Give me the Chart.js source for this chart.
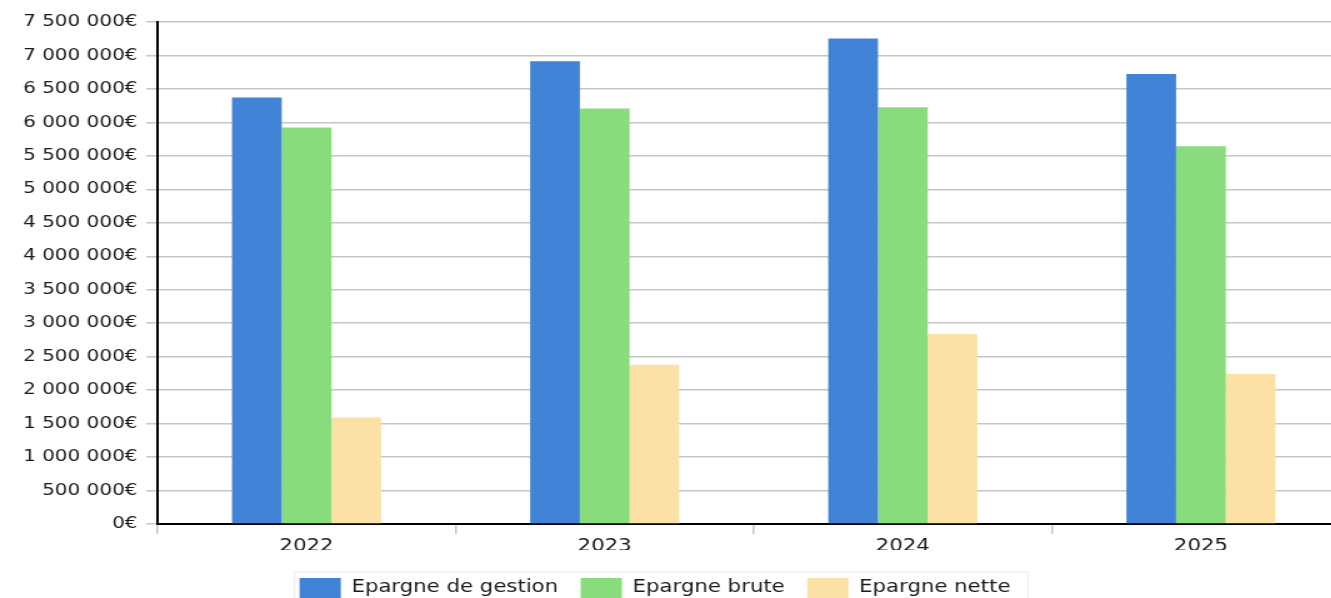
<!DOCTYPE html>
<html lang="fr">
<head>
  <meta charset="utf-8" />
  <title>Epargne 2022-2025</title>
  <style>
    html, body {
      margin: 0;
      padding: 0;
      background: #ffffff;
      overflow: hidden;
    }
    /* the reference is stretched horizontally, so the chart is drawn narrow and widened */
    #wrap {
      width: 1081px;
      height: 598px;
      transform: scaleX(1.25);
      transform-origin: 0 0;
    }
  </style>
</head>
<body>
  <div id="wrap"><canvas id="chart" width="1081" height="598"></canvas></div>

  <script src="https://cdn.jsdelivr.net/npm/chart.js"></script>

  <script>
    const years = ['2022', '2023', '2024', '2025'];
    const epargneGestion = [6372000, 6913000, 7252000, 6724000];
    const epargneBrute = [5924000, 6207000, 6227000, 5645000];
    const epargneNette = [1590000, 2381000, 2839000, 2242000];
    const seriesNames = ['Epargne de gestion', 'Epargne brute', 'Epargne nette'];
    const yMax = 7500000;
    const yStep = 500000;

    const colors = ['#4183d7', '#88dc7c', '#fce1a6'];
    const family = "'DejaVu Sans', Verdana, sans-serif";
    const font = { family: family, size: 17 };
    const yFont = { family: family, size: 16 };
    const textColor = '#1a1a1a';
    const gridColor = '#c6c6c6';

    const euro = v => String(v).replace(/\B(?=(\d{3})+(?!\d))/g, ' ') + '€';

    // move the legend a bit (it is not centred on the canvas in the reference)
    // and draw the faint frame round it
    const legendNudge = {
      id: 'legendNudge',
      afterLayout(chart) {
        const lg = chart.legend;
        lg.left -= 16; lg.right -= 16;
        lg.top += 10; lg.bottom += 10;
      },
      afterDraw(chart) {
        const boxes = chart.legend.legendHitBoxes;
        if (!boxes || !boxes.length) return;
        const first = boxes[0];
        const last = boxes[boxes.length - 1];
        const ctx = chart.ctx;
        ctx.save();
        ctx.strokeStyle = '#ececec';
        ctx.lineWidth = 1;
        ctx.strokeRect(first.left - 4, first.top - 6, last.left + last.width - first.left + 18, 40);
        ctx.restore();
      }
    };

    const datasets = [epargneGestion, epargneBrute, epargneNette].map((data, i) => ({
      label: seriesNames[i],
      data: data,
      backgroundColor: colors[i],
      borderWidth: 0,
      categoryPercentage: 0.5,
      barPercentage: 1
    }));

    new Chart(document.getElementById('chart'), {
      type: 'bar',
      data: { labels: years, datasets: datasets },
      plugins: [legendNudge],
      options: {
        responsive: false,
        animation: false,
        devicePixelRatio: 1,
        layout: { padding: { top: 22, right: 1, left: 0, bottom: 0 } },
        plugins: {
          legend: {
            position: 'bottom',
            labels: {
              boxWidth: 33,
              boxHeight: 20,
              padding: 18,
              color: textColor,
              font: font
            }
          },
          tooltip: { enabled: false }
        },
        scales: {
          x: {
            grid: {
              offset: true,
              drawOnChartArea: false,
              drawTicks: true,
              tickLength: 10,
              color: gridColor,
              lineWidth: 1.5
            },
            border: { color: '#000000', width: 2 },
            ticks: { padding: 2, color: textColor, font: font },
            afterFit(scale) { scale.height = 26; }
          },
          y: {
            min: 0,
            max: yMax,
            grid: { color: gridColor, lineWidth: 1.5, tickLength: 9 },
            border: { color: '#000000', width: 2 },
            ticks: {
              stepSize: yStep,
              padding: 7,
              color: textColor,
              font: yFont,
              callback: v => euro(v)
            },
            afterFit(scale) { scale.width = 126; }
          }
        }
      }
    });
  </script>
</body>
</html>
